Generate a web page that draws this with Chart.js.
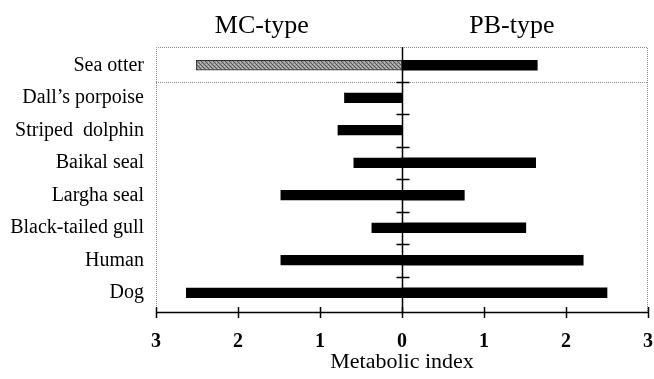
<!DOCTYPE html>
<html lang="en">
<head>
    <meta charset="UTF-8">
    <title>Metabolic index</title>
    <script src="https://cdn.jsdelivr.net/npm/chart.js"></script>
    <style>
        body { margin: 0; background: white; }
        #wrap { width: 654px; height: 379px; }
    </style>
</head>
<body>
<div id="wrap"><canvas id="chart" width="654" height="379"></canvas></div>
<script>
    // Data
    const species = ['Sea otter', "Dall\u2019s porpoise", 'Striped  dolphin', 'Baikal seal',
                     'Largha seal', 'Black-tailed gull', 'Human', 'Dog'];
    const mcType = [2.51, 0.70, 0.78, 0.59, 1.48, 0.37, 1.48, 2.63]; // drawn to the left
    const pbType = [1.65, 0, 0, 1.63, 0.76, 1.51, 2.21, 2.50];       // drawn to the right
    const xTicks = [-3, -2, -1, 0, 1, 2, 3];
    const headers = ['MC-type', 'PB-type'];

    const serif = '"Liberation Serif", "Times New Roman", serif';

    // the frame sits a little outside the category bands
    const frameTop = 2, frameBottom = 3;

    // stippled grey fill for the sea otter MC bar
    function makeHatch() {
        const c = document.createElement('canvas');
        c.width = 4; c.height = 4;
        const g = c.getContext('2d');
        g.fillStyle = '#9a9a9a';
        g.fillRect(0, 0, 4, 4);
        g.fillStyle = '#555';
        g.fillRect(0, 0, 1, 1);
        g.fillRect(1, 1, 1, 1);
        g.fillRect(2, 2, 1, 1);
        g.fillRect(3, 3, 1, 1);
        g.fillStyle = '#c4c4c4';
        g.fillRect(2, 0, 1, 1);
        g.fillRect(0, 2, 1, 1);
        return g.createPattern(c, 'repeat');
    }
    const hatch = makeHatch();

    // Draws the frame, zero line, separators and headers
    const decorations = {
        id: 'decorations',
        beforeDatasetsDraw(chart) {
            const { ctx, chartArea: a, scales: { y } } = chart;
            const top = a.top - frameTop, bottom = a.bottom + frameBottom;
            ctx.save();
            // dotted frame
            ctx.strokeStyle = '#8a8a8a';
            ctx.lineWidth = 1;
            ctx.setLineDash([1, 1]);
            ctx.beginPath();
            ctx.moveTo(a.left + 0.5, bottom);
            ctx.lineTo(a.left + 0.5, top + 0.5);
            ctx.lineTo(a.right - 0.5, top + 0.5);
            ctx.lineTo(a.right - 0.5, bottom);
            // dotted line under the sea otter row
            const sep = (y.getPixelForValue(0) + y.getPixelForValue(1)) / 2;
            ctx.moveTo(a.left, Math.round(sep) + 0.5);
            ctx.lineTo(a.right, Math.round(sep) + 0.5);
            ctx.stroke();
            ctx.setLineDash([]);
            ctx.restore();
        },
        afterDatasetsDraw(chart) {
            const { ctx, chartArea: a, scales: { x, y } } = chart;
            const top = a.top - frameTop, bottom = a.bottom + frameBottom;
            ctx.save();
            const zx = Math.round(x.getPixelForValue(0)) + 0.5;
            ctx.strokeStyle = '#000';
            ctx.lineWidth = 1.5;
            ctx.beginPath();
            ctx.moveTo(zx, top);
            ctx.lineTo(zx, bottom);
            // small ticks between categories on the zero line
            for (let i = 0; i < species.length - 1; i++) {
                const ty = Math.round((y.getPixelForValue(i) + y.getPixelForValue(i + 1)) / 2) + 0.5;
                ctx.moveTo(zx - 6, ty);
                ctx.lineTo(zx + 7, ty);
            }
            ctx.stroke();
            // bottom axis with ticks crossing it
            ctx.beginPath();
            ctx.moveTo(a.left, bottom + 0.5);
            ctx.lineTo(a.right, bottom + 0.5);
            xTicks.forEach(v => {
                const tx = Math.round(x.getPixelForValue(v)) + 0.5;
                ctx.moveTo(tx, bottom - 5);
                ctx.lineTo(tx, bottom + 6);
            });
            ctx.stroke();
            // column headers
            ctx.fillStyle = '#000';
            ctx.font = '26px ' + serif;
            ctx.textAlign = 'center';
            ctx.textBaseline = 'alphabetic';
            ctx.fillText(headers[0], x.getPixelForValue(-1.71), 33);
            ctx.fillText(headers[1], x.getPixelForValue(1.34), 33);
            ctx.restore();
        }
    };

    new Chart(document.getElementById('chart'), {
        type: 'bar',
        data: {
            labels: species,
            datasets: [
                {
                    label: headers[0],
                    data: mcType.map(v => -v),
                    backgroundColor: mcType.map((v, i) => i === 0 ? hatch : '#000'),
                    borderColor: mcType.map((v, i) => i === 0 ? '#333' : '#000'),
                    borderWidth: 1,
                    borderSkipped: false,
                    barThickness: 10
                },
                {
                    label: headers[1],
                    data: pbType,
                    backgroundColor: '#000',
                    barThickness: 10
                }
            ]
        },
        options: {
            indexAxis: 'y',
            responsive: false,
            animation: false,
            layout: { padding: { top: 49, right: 6, left: 0, bottom: 0 } },
            plugins: {
                legend: { display: false },
                tooltip: { enabled: false }
            },
            scales: {
                x: {
                    stacked: true,
                    min: -3,
                    max: 3,
                    afterBuildTicks: s => { s.ticks = xTicks.map(v => ({ value: v })); },
                    afterFit: s => { s.height = 70; s.paddingLeft = 0; s.paddingRight = 0; },
                    grid: { display: false },
                    border: { display: false },
                    ticks: {
                        color: '#000',
                        padding: 13,
                        font: { family: serif, size: 20, weight: 'bold' },
                        callback: v => Math.abs(v)
                    },
                    title: {
                        display: true,
                        text: 'Metabolic index',
                        color: '#000',
                        font: { family: serif, size: 22 },
                        padding: { top: 0, bottom: 4 }
                    }
                },
                y: {
                    stacked: true,
                    afterFit: s => { s.width = 156; },
                    grid: { display: false },
                    border: { display: false },
                    ticks: {
                        color: '#000',
                        padding: 4,
                        font: { family: serif, size: 20 }
                    }
                }
            }
        },
        plugins: [decorations]
    });
</script>
</body>
</html>
